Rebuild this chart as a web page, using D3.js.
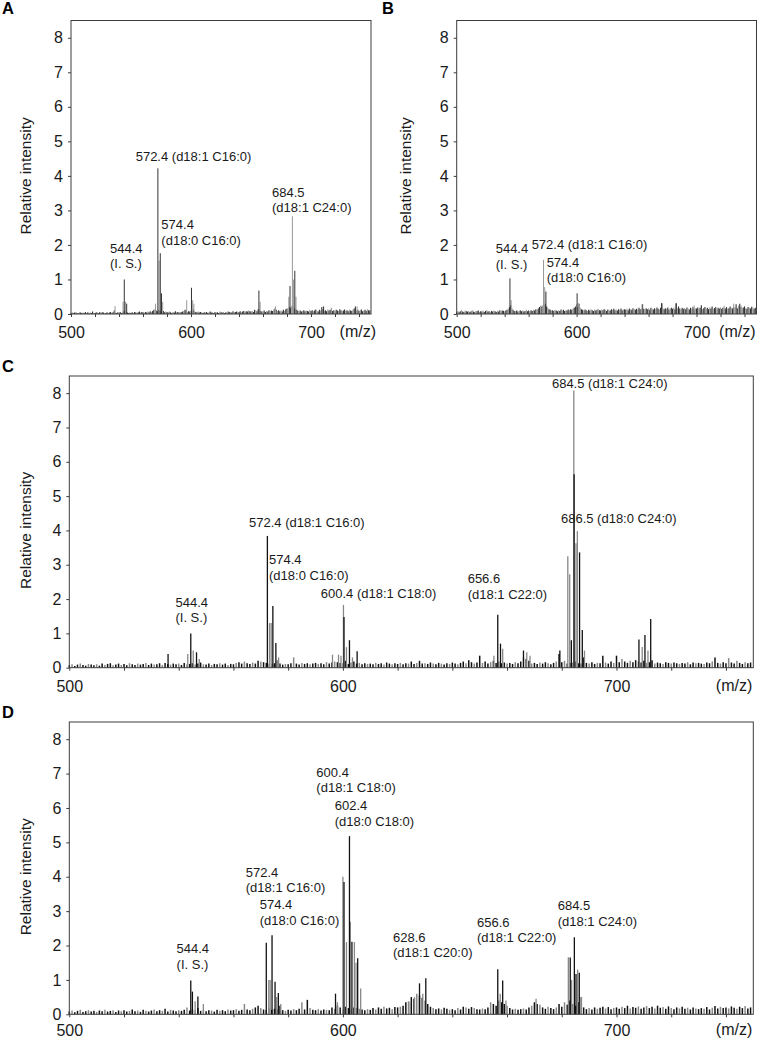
<!DOCTYPE html>
<html><head><meta charset="utf-8">
<script src="https://cdn.jsdelivr.net/npm/d3@7"></script>
<style>
body{margin:0;background:#fff}
svg{display:block}
text{font-family:"Liberation Sans",Arial,Helvetica,sans-serif;fill:#1a1a1a;font-weight:normal}
</style>
</head><body>
<svg id="chart" width="758" height="1038"></svg>
<script>
// ---------- data ----------
const xTicks = [500,520,540,560,580,600,620,640,660,680,700,720,740];
const xLabelTicks = [500,600,700];
const yTicks = [0,1,2,3,4,5,6,7,8];
const mzStart = 500; // noise arrays: one value (intensity x100) per m/z unit from 500

const noiseA = [
3,5,2,4,6,3,2,5,4,3, 4,2,6,3,5,2,4,3,7,2, 3,5,4,2,6,3,5,4,2,3, 5,3,4,6,2,5,10,4,3,5,
4,6,3,5,8,10,6,4,3,5, 3,5,2,6,4,3,5,7,4,6, 5,3,6,4,7,5,8,6,9,12, 14,10,8,12,10,8,6,9,5,7,
6,4,7,5,3,6,4,8,5,6, 4,6,5,7,9,12,10,6,8,7, 10,8,14,9,6,5,7,4,6,5, 3,5,4,6,3,5,7,4,5,3,
6,4,5,3,7,5,4,6,3,5, 4,7,5,6,4,8,5,6,7,5, 6,8,5,7,9,6,8,7,10,8, 7,9,6,12,10,8,14,12,9,7,
8,10,6,9,7,11,8,10,9,13, 16,12,9,11,8,10,7,12,9,14, 16,12,20,18,24,22,16,14,12,10, 8,10,7,9,11,8,10,9,7,12,
9,11,8,10,13,9,7,12,10,20, 14,9,11,8,13,10,12,18,9,11, 8,12,10,9,14,11,8,10,13,9, 11,8,12,10,9,13,16,22,10,12,
9,11,13,8,10,12,9,14,11,10];
const noiseB = [
6,9,5,8,11,7,6,10,8,7, 9,6,8,11,7,5,9,8,10,6, 8,7,10,6,9,11,7,8,6,9, 7,10,8,6,9,7,11,8,10,9,
8,10,12,15,20,25,18,12,9,8, 10,7,9,11,8,10,7,9,12,8, 10,8,11,9,12,10,14,12,16,20, 24,22,18,26,30,22,18,14,12,10,
11,9,12,10,8,11,9,13,10,12, 9,11,10,13,11,14,12,16,18,22, 28,20,30,18,14,12,10,13,11,9, 12,10,14,11,9,13,10,12,15,11,
10,13,11,14,12,9,13,11,10,14, 12,15,11,13,10,14,12,16,11,13, 14,12,15,11,16,13,12,17,14,12, 15,13,18,14,16,28,15,13,17,14,
16,12,18,15,13,17,14,19,15,13, 18,32,16,14,17,15,19,13,16,18, 15,19,14,30,17,22,16,14,18,15, 17,14,19,16,13,18,15,20,14,17,
16,19,15,18,25,14,17,20,15,18, 14,19,16,22,15,17,20,14,18,16, 19,15,18,24,16,20,15,17,22,18, 16,20,18,28,17,24,30,20,16,19,
22,17,15,20,18,16,21,19,15,18];
const noiseC = [
7,10,5,9,12,8,6,11,9,7, 10,6,12,8,11,13,7,9,12,8, 11,7,13,10,8,12,9,11,14,8, 12,9,10,13,8,14,11,9,12,10,
12,8,14,10,11,13,9,12,15,10, 9,12,8,11,10,13,9,12,8,11, 10,14,16,12,18,13,11,15,12,20, 18,16,14,12,10,13,22,12,9,11,
10,13,30,12,9,14,11,13,10,12, 14,11,13,10,16,12,15,18,16,14, 13,20,11,15,18,12,14,10,13,11, 12,10,14,11,13,9,15,12,10,13,
11,14,10,13,12,18,11,14,20,12, 13,11,15,12,10,14,12,9,13,11, 15,12,10,14,18,13,22,16,12,15, 35,14,18,12,16,20,14,18,13,15,
12,14,11,16,13,18,30,25,20,12, 14,11,15,12,16,13,10,14,18,40, 16,20,12,14,15,18,13,12,30,14, 12,16,11,14,13,35,15,12,18,14,
35,16,25,18,14,20,16,22,18,15, 20,14,16,22,12,15,13,11,16,14, 12,15,13,11,14,12,16,10,15,13, 14,12,11,15,13,18,30,14,12,16,
13,28,15,12,20,14,11,16,13,15];
const noiseD = [
8,11,6,10,13,7,9,12,8,10, 7,11,9,13,8,10,12,7,11,9, 12,8,10,14,9,11,7,13,10,8, 11,14,9,12,10,16,8,13,11,9,
12,10,13,20,11,14,12,18,10,13, 9,12,11,8,13,10,12,9,14,11, 12,15,10,13,30,14,12,16,20,25, 18,14,12,20,13,16,14,25,12,10,
13,11,15,12,16,35,14,42,18,13, 12,15,11,14,13,12,20,16,25,20, 14,22,18,15,20,18,16,14,12,15, 13,18,14,20,16,22,17,19,15,21,
20,22,25,35,38,50,45,60,55,48, 40,30,22,18,15,17,14,19,16,13, 15,12,18,14,22,20,16,21,18,15, 14,17,15,20,35,30,25,40,35,30,
25,18,14,16,13,15,17,14,20,25, 35,30,28,20,16,22,18,15,20,30, 22,35,28,40,30,25,35,50,20,15, 18,14,20,16,19,22,17,21,15,18,
20,16,22,18,25,17,21,19,23,16, 20,24,18,22,17,25,19,21,16,23, 18,15,20,17,22,16,19,14,20,17, 15,18,16,21,14,19,24,17,22,18,
20,17,23,19,16,22,18,24,17,20];

// peaks: [m/z, relative intensity]
const darkA = [[544.4,1.0],[546.4,0.3],[572.4,4.22],[574.4,1.76],[575.4,0.6],[600.4,0.76],[656.6,0.68],[682.5,0.81],[686.5,1.25],[710.5,0.22]];
const grayA = [[536.7,0.23],[543.4,0.35],[545.4,0.36],[570.4,0.3],[573.4,1.55],[576.4,0.35],[596.4,0.4],[601.4,0.4],[602.4,0.3],[657.6,0.35],[670.4,0.22],[681.5,0.5],[684.5,2.83],[685.5,1.0],[687.5,0.5],[738.4,0.22]];
const darkB = [[544.4,1.03],[574.4,0.65],[600.4,0.6],[671.0,0.3],[683.0,0.32]];
const grayB = [[545.4,0.4],[571.4,0.25],[572.4,1.57],[573.4,0.78],[601.4,0.32],[602.4,0.25],[654.5,0.28],[698.0,0.25],[731.0,0.3],[737.0,0.26]];
const darkC = [[536.1,0.4],[544.4,1.0],[546.5,0.45],[572.4,3.84],[574.4,1.8],[575.5,0.72],[600.4,1.48],[602.4,0.8],[605.2,0.48],[656.6,1.54],[657.6,0.7],[666.0,0.5],[679.3,0.5],[683.5,0.8],[684.5,5.64],[686.5,3.36],[687.5,1.1],[708.2,0.82],[710.4,0.95],[712.5,1.42]];
const grayC = [[543.3,0.4],[545.3,0.5],[547.5,0.25],[573.2,1.3],[573.8,1.3],[576.5,0.3],[596.2,0.38],[598.4,0.38],[599.3,0.35],[600.2,1.83],[601.3,0.6],[603.5,0.3],[655.2,0.35],[658.4,0.55],[667.2,0.45],[668.4,0.35],[682.2,3.25],[682.9,2.72],[684.4,8.08],[685.2,3.63],[685.7,3.98],[688.3,0.5],[709.4,0.6],[711.5,0.5]];
const darkD = [[544.4,0.98],[545.0,0.66],[547.0,0.52],[572.0,2.08],[574.1,2.3],[575.2,0.95],[576.4,0.62],[597.3,0.6],[600.4,3.85],[602.4,5.18],[603.3,2.11],[605.4,1.63],[628.0,0.9],[630.3,1.05],[656.6,1.31],[658.4,0.98],[683.1,1.65],[684.6,2.24],[685.2,1.17],[686.4,1.21]];
const grayD = [[546.0,0.38],[549.0,0.3],[572.9,1.0],[573.4,1.0],[575.8,0.5],[577.3,0.3],[598.0,0.35],[600.0,4.0],[601.3,2.1],[602.7,2.69],[604.2,2.1],[604.8,1.5],[606.5,0.75],[624.6,0.35],[626.2,0.5],[629.2,0.6],[657.5,0.6],[659.6,0.4],[670.6,0.45],[682.4,1.66],[683.6,1.0],[685.8,1.3],[687.2,0.5]];

// annotations: [m/z of left edge, intensity of first baseline, lines...]
const labelsA = [[532.5,1.77,"544.4","(I. S.)"],[553.9,4.44,"572.4 (d18:1 C16:0)"],[575.3,2.45,"574.4","(d18:0 C16:0)"],[667.5,3.4,"684.5","(d18:1 C24:0)"]];
const labelsB = [[532.5,1.76,"544.4","(I. S.)"],[562.5,1.88,"572.4 (d18:1 C16:0)"],[575.0,1.37,"574.4","(d18:0 C16:0)"]];
const labelsC = [[538.8,1.78,"544.4","(I. S.)"],[565.7,4.11,"572.4 (d18:1 C16:0)"],[573.0,3.02,"574.4","(d18:0 C16:0)"],[591.9,2.04,"600.4 (d18:1 C18:0)"],[645.6,2.46,"656.6","(d18:1 C22:0)"],[676.4,8.15,"684.5 (d18:1 C24:0)"],[679.7,4.23,"686.5 (d18:0 C24:0)"]];
const labelsD = [[539.2,1.77,"544.4","(I. S.)"],[564.5,4.0,"572.4","(d18:1 C16:0)"],[569.6,3.05,"574.4","(d18:0 C16:0)"],[590.3,6.91,"600.4","(d18:1 C18:0)"],[597.0,5.94,"602.4","(d18:0 C18:0)"],[618.3,2.11,"628.6","(d18:1 C20:0)"],[649.0,2.55,"656.6","(d18:1 C22:0)"],[678.5,3.03,"684.5","(d18:1 C24:0)"]];

// ---------- layout ----------
const panels = [
  {letter:"A", lx:2, ly:14, ylx:26, box:[71,20.5,371,314], noise:noiseA, dark:darkA, gray:grayA, labels:labelsA, mzDx:5, pad:10, dk:"#333", gr:"#999", pw:1.0, nw:1.1},
  {letter:"B", lx:382, ly:14, ylx:406, box:[456.7,20.5,756.5,314], noise:noiseB, dark:darkB, gray:grayB, labels:labelsB, mzDx:-1, pad:10, dk:"#333", gr:"#999", pw:1.0, nw:1.1},
  {letter:"C", lx:2, ly:372, ylx:26, box:[69.3,376,753.3,667.7], noise:noiseC, dark:darkC, gray:grayC, labels:labelsC, mzDx:-1, pad:10, dk:"#111", gr:"#888", pw:1.3, nw:1.5},
  {letter:"D", lx:2, ly:718, ylx:26, box:[69.3,722,753.3,1014.3], noise:noiseD, dark:darkD, gray:grayD, labels:labelsD, mzDx:-1, pad:7.5, dk:"#111", gr:"#888", pw:1.3, nw:1.5}
];

const svg = d3.select("#chart");

panels.forEach(p => {
  const [L,T,R,B] = p.box;
  const x = d3.scaleLinear().domain([500,750]).range([L,R]);
  const y = d3.scaleLinear().domain([0,8.5]).range([B,T]);
  const g = svg.append("g");

  g.append("text").attr("x",p.lx).attr("y",p.ly)
    .style("font-size","16.5px").style("font-weight","bold").style("fill","#000").text(p.letter);

  // noise sticks
  g.append("g").selectAll("line").data(p.noise).join("line")
    .attr("x1",(d,i)=>x(mzStart+i)).attr("x2",(d,i)=>x(mzStart+i))
    .attr("y1",y(0)).attr("y2",d=>y(d/100))
    .attr("stroke",(d,i)=> i%3===1 ? p.gr : p.dk).attr("stroke-width",p.nw);

  // gray peaks then dark peaks
  g.append("g").selectAll("line").data(p.gray).join("line")
    .attr("x1",d=>x(d[0])).attr("x2",d=>x(d[0]))
    .attr("y1",y(0)).attr("y2",d=>y(d[1]))
    .attr("stroke",p.gr).attr("stroke-width",p.pw);
  g.append("g").selectAll("line").data(p.dark).join("line")
    .attr("x1",d=>x(d[0])).attr("x2",d=>x(d[0]))
    .attr("y1",y(0)).attr("y2",d=>y(d[1]))
    .attr("stroke",p.dk).attr("stroke-width",p.pw);

  // frame
  g.append("rect").attr("x",L).attr("y",T).attr("width",R-L).attr("height",B-T)
    .attr("fill","none").attr("stroke","#3c3c3c").attr("stroke-width",1);

  // axes
  const xa = g.append("g").attr("transform",`translate(0,${B})`)
    .call(d3.axisBottom(x).tickValues(xTicks).tickSize(3).tickPadding(p.pad)
      .tickFormat(d => xLabelTicks.includes(d) ? d : ""));
  const ya = g.append("g").attr("transform",`translate(${L},0)`)
    .call(d3.axisLeft(y).tickValues(yTicks).tickSize(3).tickPadding(5));
  [xa,ya].forEach(a => {
    a.select(".domain").remove();
    a.selectAll(".tick line").attr("stroke","#3c3c3c");
    a.selectAll("text").style("font-size","16px").style("font-family",'"Liberation Sans",Arial,sans-serif').attr("fill","#1a1a1a");
  });

  g.append("text").attr("x",R+p.mzDx).attr("y",B+3+p.pad-1).attr("dy","0.71em")
    .attr("text-anchor","end").style("font-size","16px").text("(m/z)");

  g.append("text")
    .attr("transform",`translate(${p.ylx},${y(4)}) rotate(-90)`)
    .attr("text-anchor","middle").attr("dy","0.35em")
    .style("font-size","15.5px").style("font-weight","normal").text("Relative intensity");

  // annotations
  p.labels.forEach(l => {
    const t = g.append("text").attr("x",x(l[0])).attr("y",y(l[1])).style("font-size","13px");
    l.slice(2).forEach((s,k) => {
      t.append("tspan").attr("x",x(l[0])).attr("dy", k===0 ? 0 : 15.5).text(s);
    });
  });
});
</script>
</body></html>
